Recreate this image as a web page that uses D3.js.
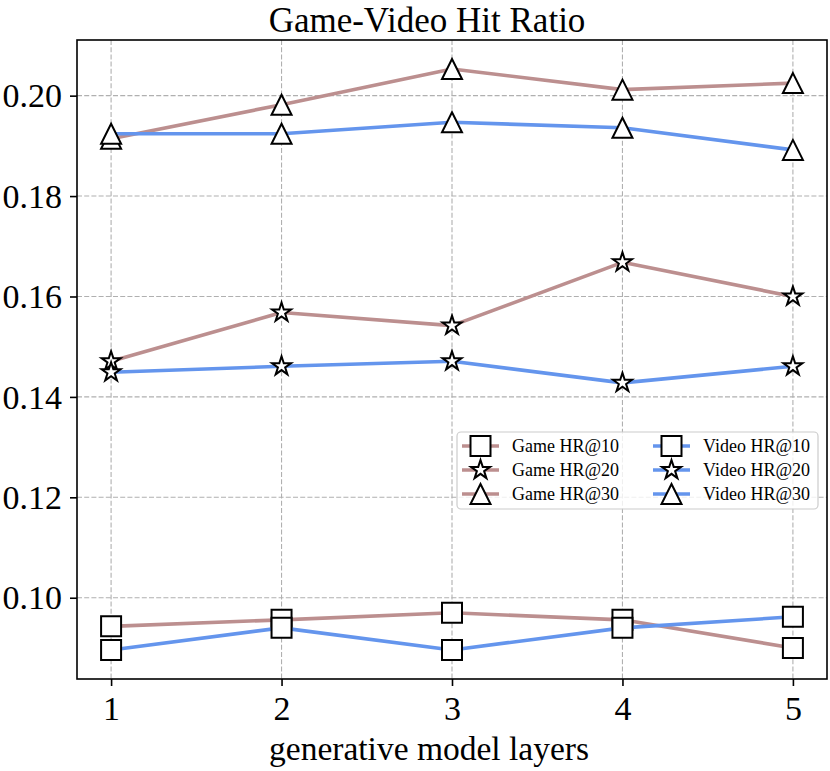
<!DOCTYPE html>
<html><head><meta charset="utf-8">
<script src="https://cdn.jsdelivr.net/npm/d3@7"></script>
<style>body{margin:0;background:#fff}text{font-family:"Liberation Serif","DejaVu Serif",serif;fill:#000}</style>
</head><body><svg id="c" width="830" height="771"></svg>
<script>
const layers = [1, 2, 3, 4, 5];
const gameHR10 = [0.0943, 0.0956, 0.0970, 0.0956, 0.0900];
const gameHR20 = [0.1471, 0.1568, 0.1542, 0.1668, 0.1600];
const gameHR30 = [0.1914, 0.1982, 0.2053, 0.2012, 0.2025];
const videoHR10 = [0.0896, 0.0940, 0.0896, 0.0940, 0.0962];
const videoHR20 = [0.1449, 0.1461, 0.1471, 0.1428, 0.1461];
const videoHR30 = [0.1924, 0.1924, 0.1947, 0.1936, 0.1892];
const yTicks = [0.10, 0.12, 0.14, 0.16, 0.18, 0.20];
const title = "Game-Video Hit Ratio";
const xLabel = "generative model layers";

const GAME = "#bc8f8f", VIDEO = "#6495ed";
const series = [
  {name: "Game HR@10", values: gameHR10, color: GAME, marker: "square"},
  {name: "Game HR@20", values: gameHR20, color: GAME, marker: "star"},
  {name: "Game HR@30", values: gameHR30, color: GAME, marker: "triangle"},
  {name: "Video HR@10", values: videoHR10, color: VIDEO, marker: "square"},
  {name: "Video HR@20", values: videoHR20, color: VIDEO, marker: "star"},
  {name: "Video HR@30", values: videoHR30, color: VIDEO, marker: "triangle"}
];

const L = 77, R = 827, T = 40, B = 679;
const svg = d3.select("#c");
const x = d3.scaleLinear().domain([0.8, 5.2]).range([L, R]);
const all = series.flatMap(s => s.values);
const mn = d3.min(all), mx = d3.max(all), pad = (mx - mn) * 0.05;
const y = d3.scaleLinear().domain([mn - pad, mx + pad]).range([B, T]);

// grid
const grid = svg.append("g").attr("stroke", "#b0b0b0").attr("stroke-width", 1.1).attr("stroke-dasharray", "5,2.2");
grid.selectAll(".gx").data(layers).join("line").attr("x1", d => x(d)).attr("x2", d => x(d)).attr("y1", T).attr("y2", B);
grid.selectAll(".gy").data(yTicks).join("line").attr("y1", d => y(d)).attr("y2", d => y(d)).attr("x1", L).attr("x2", R);

function markerPath(type, s) {
  const h = s / 2;
  if (type === "square") return `M${-h},${-h}H${h}V${h}H${-h}Z`;
  if (type === "triangle") return `M0,${-h}L${h},${h}L${-h},${h}Z`;
  const ri = h * 0.381966; let p = "";
  for (let i = 0; i < 10; i++) {
    const r = i % 2 === 0 ? h : ri, a = -Math.PI / 2 + i * Math.PI / 5;
    p += (i ? "L" : "M") + (r * Math.cos(a)).toFixed(2) + "," + (r * Math.sin(a)).toFixed(2);
  }
  return p + "Z";
}
const MS = 20;
const line = d3.line().x((d, i) => x(layers[i])).y(d => y(d));
series.forEach(s => {
  const g = svg.append("g");
  g.append("path").attr("d", line(s.values)).attr("fill", "none").attr("stroke", s.color).attr("stroke-width", 3.6).attr("stroke-linejoin", "round");
  g.selectAll("path.m").data(s.values).join("path").attr("class", "m")
    .attr("transform", (d, i) => `translate(${x(layers[i])},${y(d)})`)
    .attr("d", markerPath(s.marker, MS)).attr("fill", "#fff").attr("stroke", "#000").attr("stroke-width", 2).attr("stroke-linejoin", "miter");
});

// spines
svg.append("rect").attr("x", L).attr("y", T).attr("width", R - L).attr("height", B - T).attr("fill", "none").attr("stroke", "#000").attr("stroke-width", 1.6);

// axes
const xa = svg.append("g").attr("transform", `translate(0,${B})`)
  .call(d3.axisBottom(x).tickValues(layers).tickFormat(d3.format("d")).tickSize(7).tickPadding(8));
const ya = svg.append("g").attr("transform", `translate(${L},0)`)
  .call(d3.axisLeft(y).tickValues(yTicks).tickFormat(d3.format(".2f")).tickSize(7).tickPadding(8));
[xa, ya].forEach(a => {
  a.select(".domain").remove();
  a.selectAll(".tick line").attr("stroke", "#000").attr("stroke-width", 1.6);
  a.selectAll(".tick text").attr("font-size", 34).attr("font-family", '"Liberation Serif",serif');
});
xa.selectAll(".tick text").attr("dy", null).attr("y", 41);
ya.selectAll(".tick text").attr("dy", "0.33em");

svg.append("text").attr("x", (L + R) / 2 - 25).attr("y", 32).attr("text-anchor", "middle").attr("font-size", 35).text(title);
svg.append("text").attr("x", (L + R) / 2 - 23).attr("y", 760).attr("text-anchor", "middle").attr("font-size", 33.5).text(xLabel);

// legend
const lg = svg.append("g");
lg.append("rect").attr("x", 457).attr("y", 432).attr("width", 361).attr("height", 77).attr("rx", 4)
  .attr("fill", "#fff").attr("fill-opacity", 0.8).attr("stroke", "#cccccc").attr("stroke-width", 1.2);
series.forEach((s, i) => {
  const col = Math.floor(i / 3), row = i % 3;
  const x0 = 462 + col * 191, yy = 446 + row * 24;
  lg.append("line").attr("x1", x0).attr("x2", x0 + 37).attr("y1", yy).attr("y2", yy).attr("stroke", s.color).attr("stroke-width", 3.6);
  lg.append("path").attr("transform", `translate(${x0 + 18.5},${yy})`).attr("d", markerPath(s.marker, MS))
    .attr("fill", "#fff").attr("stroke", "#000").attr("stroke-width", 2);
  lg.append("text").attr("x", x0 + 50).attr("y", yy + 6).attr("font-size", 18).text(s.name);
});
</script></body></html>
